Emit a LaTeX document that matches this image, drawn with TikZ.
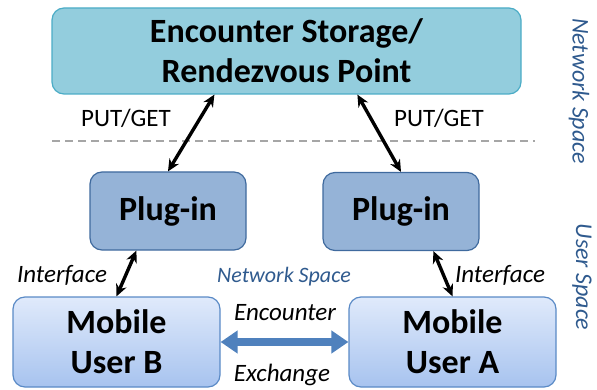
\documentclass[tikz,border=0pt]{standalone}
\usepackage{fontspec}
\setmainfont{Carlito}
\usetikzlibrary{arrows.meta,calc}
\definecolor{topfill}{HTML}{93CDDD}
\definecolor{topdraw}{HTML}{4BACC6}
\definecolor{plugfill}{HTML}{95B3D7}
\definecolor{plugdraw}{HTML}{3F6A9E}
\definecolor{mobtop}{HTML}{E0EAFB}
\definecolor{mobbot}{HTML}{A7C3EF}
\definecolor{mobdraw}{HTML}{5A8AC6}
\definecolor{arrblue}{HTML}{4F81BD}
\definecolor{spaceblue}{HTML}{2F5A8E}
\definecolor{dashgray}{HTML}{A6A6A6}
\tikzset{
  box/.style={rounded corners=12pt, line width=1.2pt, inner sep=0pt, align=center,
    font=\bfseries\fontsize{34}{40}\selectfont},
  topbox/.style={box, fill=topfill, draw=topdraw, minimum width=469pt, minimum height=86pt},
  plugbox/.style={box, fill=plugfill, draw=plugdraw, minimum width=156pt, minimum height=78pt},
  mobbox/.style={box, top color=mobtop, bottom color=mobbot, draw=mobdraw, minimum width=207pt, minimum height=90pt},
  blk/.style={line width=3.4pt, {Stealth[length=12pt,width=11pt]}-{Stealth[length=12pt,width=11pt]}},
  bluearr/.style={line width=8pt, draw=arrblue, {Triangle[length=17pt,width=22pt]}-{Triangle[length=17pt,width=22pt]}},
  lbl/.style={font=\fontsize{25}{30}\selectfont, inner sep=0pt},
  ilbl/.style={font=\itshape\fontsize{25}{30}\selectfont, inner sep=0pt},
  slbl/.style={font=\itshape\fontsize{22}{26}\selectfont, text=spaceblue, inner sep=0pt},
  rlbl/.style={font=\itshape\fontsize{24}{28}\selectfont, text=spaceblue, inner sep=0pt, rotate=-90},
}
\begin{document}
\begin{tikzpicture}[x=1pt,y=-1pt]
\useasboundingbox (0,0) rectangle (597,390);
\node[topbox] (top) at (286.5,51) {Encounter Storage/\\Rendezvous Point};
\node[plugbox] (pl) at (168,211) {Plug-in};
\node[plugbox] (pr) at (401,211.5) {Plug-in};
\node[mobbox] (mb) at (116.5,342) {Mobile\\User B};
\node[mobbox] (ma) at (452.5,342) {Mobile\\User A};
\coordinate (dl) at (52,141);
\coordinate (dr) at (535,141);
\draw[dashgray, line width=1.2pt, dash pattern=on 8pt off 5pt] (dl) -- (dr);
\draw[blk] ([xshift=163pt]top.south west) -- (pl.north);
\draw[blk] ([xshift=306pt]top.south west) -- (pr.north);
\draw[blk] ([xshift=47pt]pl.south west) -- (mb.north);
\draw[blk] ([xshift=111pt]pr.south west) -- (ma.north);
\draw[bluearr] (mb.east) -- (ma.west);
\node[lbl] (pg1) at (126,118) {PUT/GET};
\node[lbl] (pg2) at (439,118) {PUT/GET};
\node[ilbl] (if1) at (62,275) {Interface};
\node[ilbl] (if2) at (500,275) {Interface};
\node[slbl] (ns) at (284,277) {Network Space};
\node[ilbl] (enc) at (285,313) {Encounter};
\node[ilbl] (exc) at (282,375) {Exchange};
\node[rlbl] (rns) at (579,91) {Network Space};
\node[rlbl] (rus) at (582,277) {User Space};
\end{tikzpicture}
\end{document}
